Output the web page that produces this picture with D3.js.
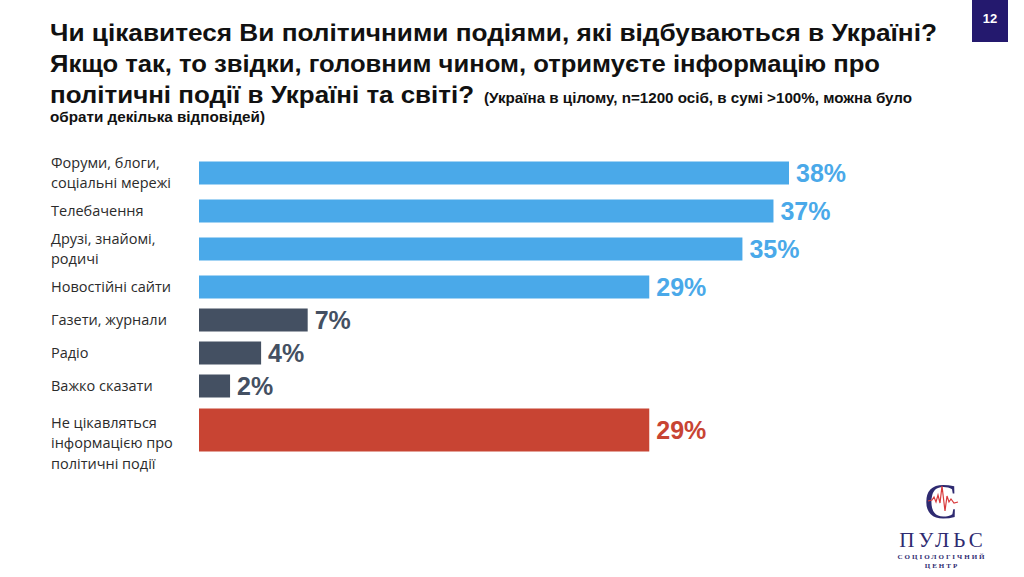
<!DOCTYPE html>
<html>
<head>
<meta charset="utf-8">
<script src="https://cdn.jsdelivr.net/npm/d3@7"></script>
<style>
  html, body { margin: 0; padding: 0; background: #fff; }
  svg { display: block; }
</style>
</head>
<body>
<svg id="chart"></svg>
<script>
// data
const categories = [
  ["Форуми, блоги,", "соціальні мережі"],
  ["Телебачення"],
  ["Друзі, знайомі,", "родичі"],
  ["Новостійні сайти"],
  ["Газети, журнали"],
  ["Радіо"],
  ["Важко сказати"],
  ["Не цікавляться", "інформацією про", "політичні події"]
];
const values = [38, 37, 35, 29, 7, 4, 2, 29];
const groups = ["media", "media", "media", "media", "other", "other", "other", "none"];

const titleLines = [
  "Чи цікавитеся Ви політичними подіями, які відбуваються в Україні?",
  "Якщо так, то звідки, головним чином, отримуєте інформацію про",
  "політичні події в Україні та світі?"
];
const noteLines = [
  "(Україна в цілому, n=1200 осіб, в сумі >100%, можна було",
  "обрати декілька відповідей)"
];
const pageNumber = "12";

const W = 1024, H = 577;
const colors = { media: "#4aa9e9", other: "#445062", none: "#c84433" };

const svg = d3.select("#chart").attr("width", W).attr("height", H);

// title, squeezed to the condensed width of the slide
const titleWidths = [887, 830, 424];
svg.append("g").selectAll("text")
  .data(titleLines)
  .join("text")
  .attr("x", 50)
  .attr("y", (d, i) => 41 + i * 31)
  .attr("font-family", "Liberation Sans, Arial, sans-serif")
  .attr("font-weight", "bold")
  .attr("font-size", 24)
  .attr("fill", "#111")
  .attr("textLength", (d, i) => titleWidths[i])
  .attr("lengthAdjust", "spacingAndGlyphs")
  .text(d => d);

const noteWidths = [428, 215];
const notePos = [[484, 103], [50, 122]];
svg.append("g").selectAll("text")
  .data(noteLines)
  .join("text")
  .attr("x", (d, i) => notePos[i][0])
  .attr("y", (d, i) => notePos[i][1])
  .attr("font-family", "Liberation Sans, Arial, sans-serif")
  .attr("font-weight", "bold")
  .attr("font-size", 14.5)
  .attr("fill", "#111")
  .attr("textLength", (d, i) => noteWidths[i])
  .attr("lengthAdjust", "spacingAndGlyphs")
  .text(d => d);

// page number box
svg.append("rect")
  .attr("x", 972).attr("y", 0).attr("width", 36).attr("height", 42)
  .attr("fill", "#24196e");
svg.append("text")
  .attr("x", 990).attr("y", 23)
  .attr("text-anchor", "middle")
  .attr("font-family", "Liberation Sans, Arial, sans-serif")
  .attr("font-weight", "bold")
  .attr("font-size", 13)
  .attr("fill", "#fff")
  .text(pageNumber);

// scales
const x = d3.scaleLinear().domain([0, 38]).range([199, 789]);

// row slots: two-line labels get a bit more room
const slot = n => (n > 1 ? 43 : 33);
const mainRows = values.length - 1;
const slotEnds = d3.cumsum(categories.slice(0, mainRows), c => slot(c.length));
const barH = 23;

const rows = values.map((v, i) => {
  const last = i === values.length - 1;
  let top, h;
  if (last) {
    top = 151.5 + slotEnds[mainRows - 1] + 6;
    h = 43;
  } else {
    const centre = 151.5 + slotEnds[i] - slot(categories[i].length) / 2;
    top = centre - barH / 2;
    h = barH;
  }
  return { v, i, label: categories[i], group: groups[i], top, h, last };
});

const chart = svg.append("g");

chart.selectAll(".bar")
  .data(rows)
  .join("rect")
  .attr("class", "bar")
  .attr("x", x(0))
  .attr("y", d => d.top)
  .attr("width", d => x(d.v) - x(0))
  .attr("height", d => d.h)
  .attr("fill", d => colors[d.group]);

chart.selectAll(".val")
  .data(rows)
  .join("text")
  .attr("class", "val")
  .attr("x", d => x(d.v) + 7)
  .attr("y", d => d.top + d.h / 2)
  .attr("dy", "0.36em")
  .attr("font-family", "Liberation Sans, Arial, sans-serif")
  .attr("font-weight", "bold")
  .attr("font-size", 25)
  .attr("fill", d => colors[d.group])
  .text(d => d.v + "%");

const lineH = 20.5;
const labels = chart.selectAll(".lab")
  .data(rows)
  .join("text")
  .attr("class", "lab")
  .attr("font-family", "Open Sans, sans-serif")
  .attr("font-size", 14.5)
  .attr("fill", "#2b2b2b");

labels.each(function(d) {
  const n = d.label.length;
  const first = d.last ? d.top + 14 : d.top + d.h / 2 - (n - 1) * lineH / 2;
  d3.select(this).selectAll("tspan")
    .data(d.label)
    .join("tspan")
    .attr("x", 51)
    .attr("y", (t, k) => first + k * lineH)
    .attr("dy", "0.35em")
    .text(t => t);
});

// logo
const logo = svg.append("g").attr("transform", "translate(941,0)");
logo.append("text")
  .attr("x", 0).attr("y", 518)
  .attr("text-anchor", "middle")
  .attr("font-family", "Liberation Serif, serif")
  .attr("font-size", 50)
  .attr("fill", "#2e2a70")
  .text("С");
const pulse = [[-13, 501], [-9, 500], [-7, 497], [-5, 502], [-3, 495], [-1, 503], [1, 486], [4, 511], [6, 496], [8, 502], [10, 499], [13, 503], [17, 502]];
logo.append("path")
  .attr("d", d3.line()(pulse))
  .attr("fill", "none")
  .attr("stroke", "#d8393b")
  .attr("stroke-width", 1.2);
logo.append("text")
  .attr("x", 2).attr("y", 547)
  .attr("text-anchor", "middle")
  .attr("font-family", "Liberation Serif, serif")
  .attr("font-size", 21)
  .attr("letter-spacing", 4)
  .attr("fill", "#2e2a70")
  .text("ПУЛЬС");
logo.append("text")
  .attr("x", 1).attr("y", 559)
  .attr("text-anchor", "middle")
  .attr("font-family", "Liberation Serif, serif")
  .attr("font-weight", "bold")
  .attr("font-size", 7)
  .attr("letter-spacing", 2)
  .attr("fill", "#2e2a70")
  .text("СОЦІОЛОГІЧНИЙ");
logo.append("text")
  .attr("x", 1).attr("y", 568)
  .attr("text-anchor", "middle")
  .attr("font-family", "Liberation Serif, serif")
  .attr("font-weight", "bold")
  .attr("font-size", 7)
  .attr("letter-spacing", 2)
  .attr("fill", "#2e2a70")
  .text("ЦЕНТР");
</script>
</body>
</html>
